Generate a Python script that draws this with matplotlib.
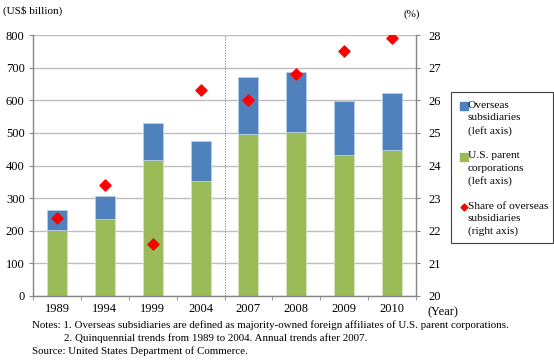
import matplotlib.pyplot as plt
from matplotlib.patches import Rectangle
import numpy as np

years = ["1989", "1994", "1999", "2004", "2007", "2008", "2009", "2010"]
parent = [203, 235, 418, 352, 496, 502, 432, 448]
overseas_total = [263, 307, 530, 475, 670, 686, 598, 621]
share = [22.4, 23.4, 21.6, 26.3, 26.0, 26.8, 27.5, 27.9]

overseas = [t - p for t, p in zip(overseas_total, parent)]

BLUE = "#4F81BD"
GREEN = "#9BBB59"
RED = "#FF0000"
GRID = "#BFBFBF"
AXIS = "#868686"

plt.rcParams["font.family"] = ["Liberation Serif", "DejaVu Serif"]

W, H = 554, 361
fig = plt.figure(figsize=(W / 100, H / 100), dpi=100)
ax = fig.add_axes([33 / W, 1 - 296 / H, 383 / W, 261 / H])
x = np.arange(len(years))

ax.bar(x, parent, width=0.42, color=GREEN, edgecolor="#D7E4BD", linewidth=0.6, zorder=2)
ax.bar(x, overseas, bottom=parent, width=0.42, color=BLUE, edgecolor="#B9CDE5",
       linewidth=0.6, zorder=2)

ax.set_xlim(-0.5, len(years) - 0.5)
ax.set_ylim(0, 800)
ax.set_yticks(range(0, 801, 100))
ax.set_xticks(x)
ax.set_xticklabels(years)
ax.set_xticks(np.arange(-0.5, len(years), 1), minor=True)
ax.tick_params(axis="x", which="major", length=0, labelsize=9, pad=5)
ax.tick_params(axis="x", which="minor", length=3, color=AXIS, direction="out")
ax.tick_params(axis="y", length=3, color=AXIS, labelsize=9, pad=3)
ax.yaxis.grid(True, color=GRID, linewidth=1.0, zorder=0)
ax.set_axisbelow(True)
for s in ["top", "right"]:
    ax.spines[s].set_visible(False)
for s in ["left", "bottom"]:
    ax.spines[s].set_color(AXIS)
    ax.spines[s].set_linewidth(1.0)

# separator between quinquennial and annual data
ax.axvline(3.5, color="#5B9BD5", linestyle=(0, (1.2, 1.2)), linewidth=0.8, zorder=1)

ax2 = ax.twinx()
ax2.scatter(x, share, marker="D", s=32, color=RED, zorder=3)
ax2.set_ylim(20, 28)
ax2.set_yticks(range(20, 29))
ax2.tick_params(axis="y", length=3, color=AXIS, labelsize=9, pad=6)
for s in ["top", "left", "bottom"]:
    ax2.spines[s].set_visible(False)
ax2.spines["right"].set_color(AXIS)
ax2.spines["right"].set_linewidth(1.0)

fig.text(3 / W, 1 - 11 / H, "(US$ billion)", fontsize=8, va="center")
fig.text(404 / W, 1 - 14 / H, "(%)", fontsize=8, va="center")
fig.text(428 / W, 1 - 312 / H, "(Year)", fontsize=9, va="center")

# legend drawn by hand so each key sits on the first line of its label
fig.patches.append(Rectangle((451 / W, 1 - 243 / H), 102 / W, 151 / H,
                             transform=fig.transFigure, facecolor="white",
                             edgecolor="#404040", linewidth=0.8))
legend_rows = [
    ("s", BLUE, 5.5, "Overseas\nsubsidiaries\n(left axis)"),
    ("s", GREEN, 5.5, "U.S. parent\ncorporations\n(left axis)"),
    ("D", RED, 3.5, "Share of overseas\nsubsidiaries\n(right axis)"),
]
for i, (mk, col, ms, label) in enumerate(legend_rows):
    y0 = 106 + 50.5 * i
    fig.add_artist(plt.Line2D([463.5 / W], [1 - y0 / H], marker=mk, color=col,
                              markersize=ms, linestyle="none",
                              transform=fig.transFigure))
    fig.text(468 / W, 1 - (y0 - 5) / H, label, fontsize=8.2, va="top",
             linespacing=1.45)

notes = [
    (32, 325, "Notes: 1. Overseas subsidiaries are defined as majority-owned foreign affiliates of U.S. parent corporations."),
    (64, 338, "2. Quinquennial trends from 1989 to 2004. Annual trends after 2007."),
    (32, 351, "Source: United States Department of Commerce."),
]
for nx, ny, txt in notes:
    fig.text(nx / W, 1 - ny / H, txt, fontsize=7.95, va="center")

fig.savefig("out.png", dpi=100)
